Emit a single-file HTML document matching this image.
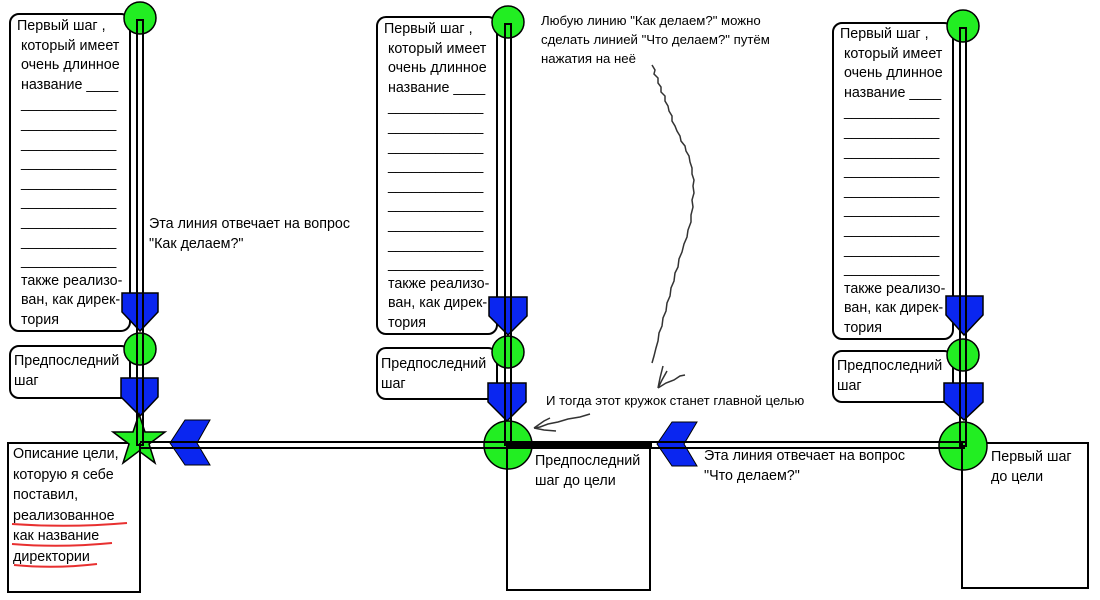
<!DOCTYPE html>
<html><head><meta charset="utf-8"><style>
body{margin:0;width:1100px;height:600px;background:#fff;position:relative;overflow:hidden;font-family:"Liberation Sans","DejaVu Sans",sans-serif;}
.t{position:absolute;font-size:14.3px;line-height:19.6px;color:#000;white-space:pre;}
.a{position:absolute;font-size:13.2px;line-height:19px;color:#000;white-space:pre;}
svg{position:absolute;left:0;top:0}
</style></head><body>
<svg width="1100" height="600" viewBox="0 0 1100 600">
<g fill="#fff" stroke="#000" stroke-width="2">
<rect x="10" y="14" width="120" height="317" rx="9"/>
<rect x="10" y="346" width="120" height="52" rx="9"/>
<rect x="377" y="17" width="120" height="317" rx="9"/>
<rect x="377" y="348" width="120" height="51" rx="9"/>
<rect x="833" y="23" width="120" height="316" rx="9"/>
<rect x="833" y="351" width="120" height="51" rx="9"/>
<rect x="8" y="443" width="132" height="149"/>
<rect x="507" y="443" width="143" height="147"/>
<rect x="962" y="443" width="126" height="145"/>
</g>
<g fill="#0a26f0" stroke="#000" stroke-width="1.5">
<path d="M122 293 H158 V312 L140 331 L122 312 Z"/>
<path d="M121 378 H158 V397 L140 416 L121 397 Z"/>
<path d="M489 297 H527 V316 L508 335 L489 316 Z"/>
<path d="M488 383 H526 V402 L507 421 L488 402 Z"/>
<path d="M946 296 H983 V315 L964 335 L946 315 Z"/>
<path d="M944 383 H983 V402 L964 420 L944 402 Z"/>
</g>
<g fill="#0a26f0" stroke="#000" stroke-width="1">
<path d="M185 420 H210 L197 443 L210 465 H185 L170 443 Z"/>
<path d="M672 422 H697 L684 444 L697 466 H672 L657 444 Z"/>
</g>
<g fill="#22ee22" stroke="#000" stroke-width="1.5">
<circle cx="140" cy="18" r="16"/>
<circle cx="140" cy="349" r="16"/>
<circle cx="508" cy="22" r="16"/>
<circle cx="508" cy="352" r="16"/>
<circle cx="963" cy="26" r="16"/>
<circle cx="963" cy="355" r="16"/>
<circle cx="508" cy="445" r="24"/>
<circle cx="963" cy="446" r="24"/>
<path d="M139 414 L145 432 L165 432 L149 444 L155 463 L139 451 L123 463 L129 444 L113 432 L133 432 Z"/>
</g>
<g stroke="#000" stroke-width="2" fill="none">
<rect x="137" y="20" width="6" height="425"/>
<rect x="505" y="24" width="6" height="421"/>
<rect x="960" y="28" width="6" height="418"/>
<line x1="140" y1="442" x2="965" y2="442"/>
<line x1="140" y1="448" x2="965" y2="448"/>
<line x1="140" y1="443" x2="140" y2="592"/>
<line x1="507" y1="443" x2="507" y2="590"/>
<line x1="962" y1="443" x2="962" y2="588"/>
</g>
<line x1="508" y1="445" x2="652" y2="445" stroke="#000" stroke-width="4"/>
<g stroke="#e83030" stroke-width="2" fill="none">
<path d="M12 524 Q70 528 127 523"/>
<path d="M12 544 Q60 548 112 543"/>
<path d="M14 565 Q55 569 97 564"/>
</g>
<g stroke="#333" stroke-width="1.5" fill="none">
<path d="M652 65 l3 5 -1 4 4 4 0 5 3 4 0 5 4 4 0 5 3 5 1 5 3 5 0 5 3 5 2 5 3 5 1 5 4 5 1 5 3 5 1 6 2 6 0 6 2 6 -1 6 1 7 -2 7 1 7 -2 8 0 7 -3 8 -1 7 -3 7 -2 8 -3 7 -1 8 -3 6 -1 8 -3 7 -1 8 -3 7 -1 8 -3 7 -1 8 -3 7 -1 8 -2 7 -2 8 -2 7"/>
<path d="M658 388 l2 -10 3 -12 M658 388 l8 -5 8 -3 6 -4 5 -1 M658 388 l4 -8 5 -9"/>
<path d="M590 414 l-10 3 -12 2 -10 3 -10 2 -8 3 -6 1 M534 428 l10 -7 6 -3 M534 428 l10 2 12 1"/>
</g>
</svg>
<div class="t" style="left:17px;top:17px">Первый шаг ,
 который имеет
 очень длинное
 название ____
 ____________
 ____________
 ____________
 ____________
 ____________
 ____________
 ____________
 ____________
 ____________
 также реализо-
 ван, как дирек-
 тория</div>
<div class="t" style="left:384px;top:20px">Первый шаг ,
 который имеет
 очень длинное
 название ____
 ____________
 ____________
 ____________
 ____________
 ____________
 ____________
 ____________
 ____________
 ____________
 также реализо-
 ван, как дирек-
 тория</div>
<div class="t" style="left:840px;top:25px">Первый шаг ,
 который имеет
 очень длинное
 название ____
 ____________
 ____________
 ____________
 ____________
 ____________
 ____________
 ____________
 ____________
 ____________
 также реализо-
 ван, как дирек-
 тория</div>
<div class="t" style="left:14px;top:352px">Предпоследний
шаг</div>
<div class="t" style="left:381px;top:355px">Предпоследний
шаг</div>
<div class="t" style="left:837px;top:357px">Предпоследний
шаг</div>
<div class="t" style="left:13px;top:444px;line-height:20.5px">Описание цели,
которую я себе
поставил,
реализованное
как название
директории</div>
<div class="t" style="left:535px;top:451px;line-height:20px">Предпоследний
шаг до цели</div>
<div class="t" style="left:991px;top:447px;line-height:20px">Первый шаг
до цели</div>
<div class="t" style="left:149px;top:214px;line-height:20px">Эта линия отвечает на вопрос
"Как делаем?"</div>
<div class="t" style="left:704px;top:446px;line-height:20px">Эта линия отвечает на вопрос
"Что делаем?"</div>
<div class="a" style="left:541px;top:11px">Любую линию "Как делаем?" можно
сделать линией "Что делаем?" путём
нажатия на неё</div>
<div class="a" style="left:546px;top:391px">И тогда этот кружок станет главной целью</div>
</body></html>
